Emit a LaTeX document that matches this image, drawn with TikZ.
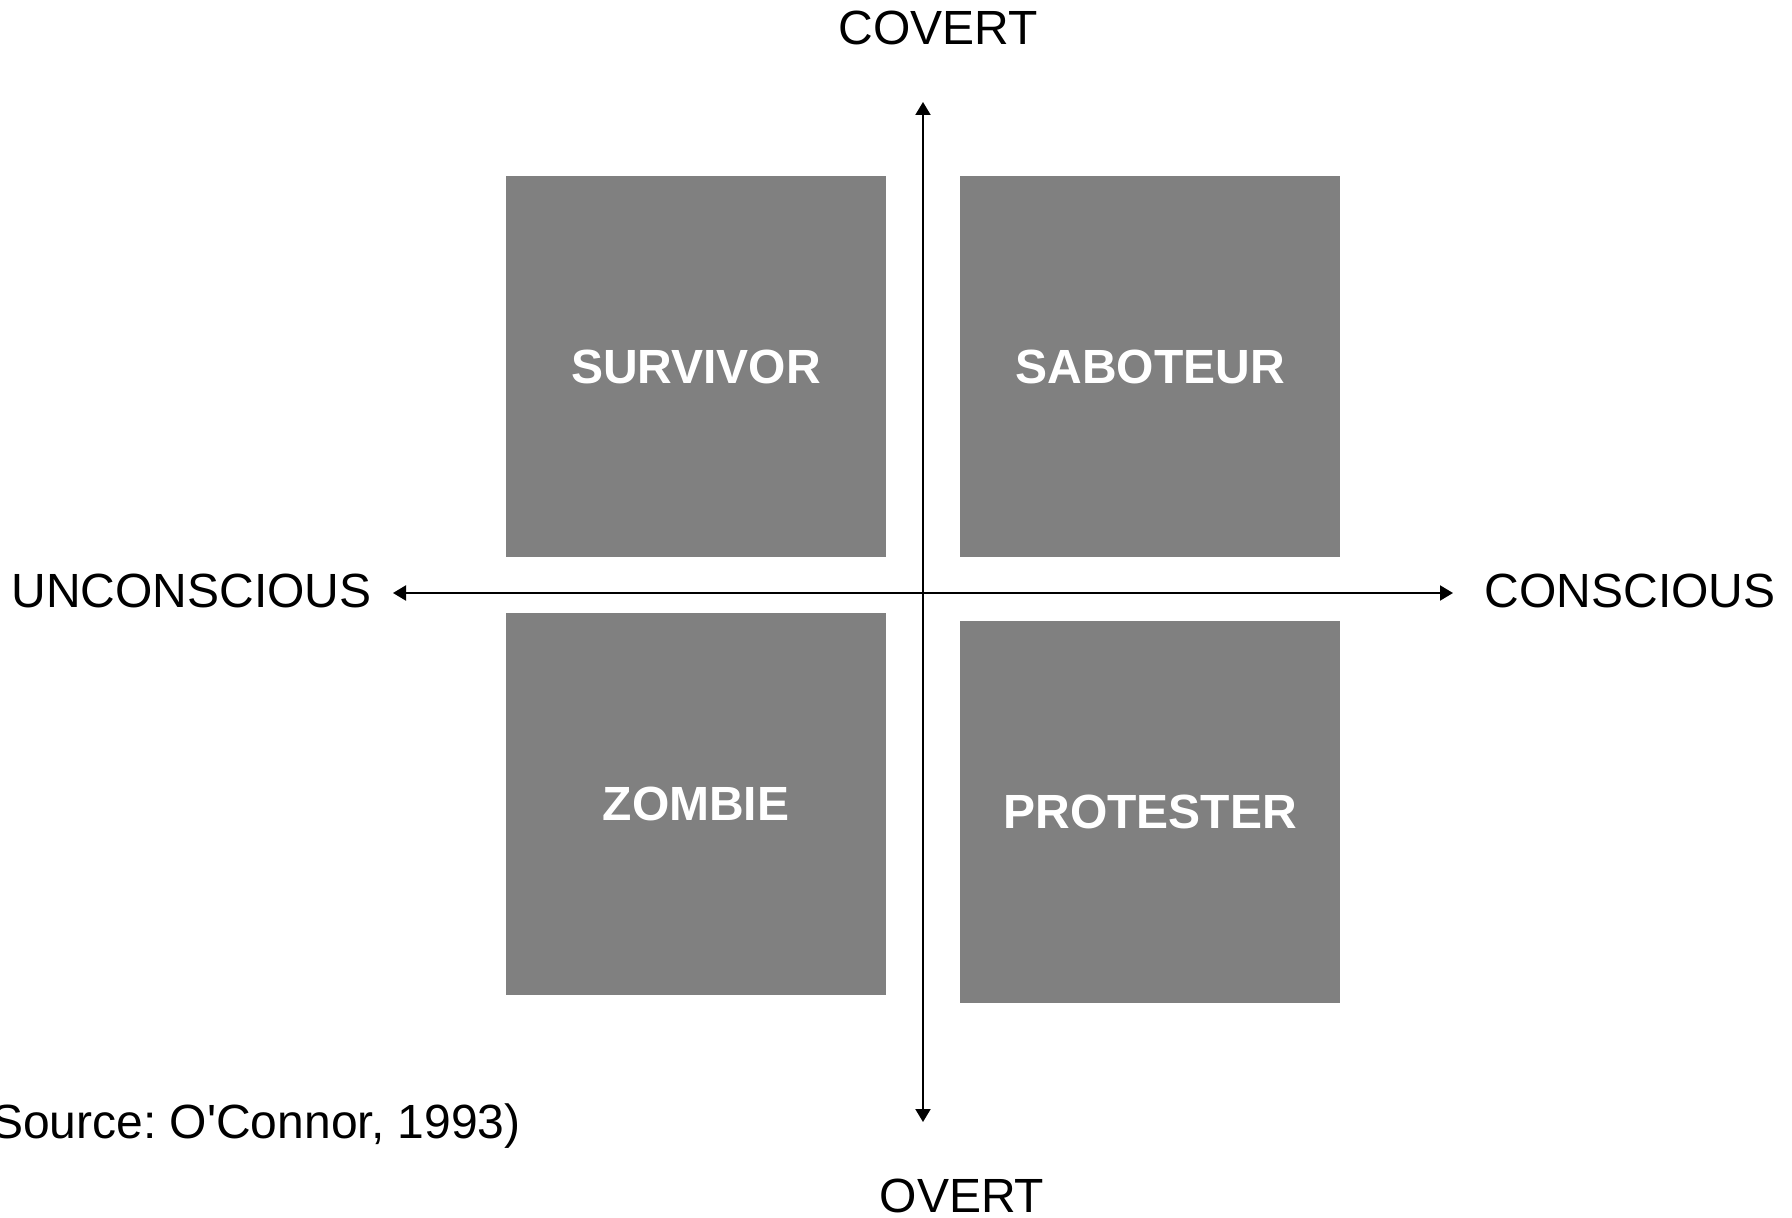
\documentclass[tikz,border=0pt]{standalone}
\usepackage{fontspec}
\setmainfont{Liberation Sans}[Ligatures=TeXOff]
\usetikzlibrary{arrows.meta}
\definecolor{boxgray}{HTML}{808080}
\begin{document}
\begin{tikzpicture}[x=0.5pt,y=-0.5pt,
  quad/.style={fill=boxgray,draw=none,minimum width=190pt,minimum height=190.5pt,inner sep=0pt,
    font=\fontsize{24pt}{28pt}\selectfont\bfseries,text=white},
  axislabel/.style={inner sep=0pt,anchor=base,text depth=0pt,font=\fontsize{24pt}{28pt}\selectfont\frenchspacing},
  axis/.style={line width=1pt,{Triangle[length=6.5pt,width=7.5pt]}-{Triangle[length=6.5pt,width=7.5pt]}}]
\useasboundingbox (0,0) rectangle (1792,1218);
\node[quad] (survivor) at (696,366.5) {SURVIVOR};
\node[quad] (saboteur) at (1150,366.5) {SABOTEUR};
\node[quad] (zombie) at (696,804) {ZOMBIE};
\node[quad] (protester) at (1150,812) {PROTESTER};
\coordinate (top) at (923,102);
\coordinate (bottom) at (923,1122);
\coordinate (left) at (393,593);
\coordinate (right) at (1453,593);
\draw[axis] (bottom) -- (top);
\draw[axis] (left) -- (right);
\node[axislabel] (covert) at (938,45) {COVERT};
\node[axislabel] (overt) at (962,1212) {OVERT};
\node[axislabel] (unconscious) at (191.5,608) {UNCONSCIOUS};
\node[axislabel] (conscious) at (1630,608) {CONSCIOUS};
\node[axislabel,anchor=base east] (source) at (521,1138) {(Source: O'Connor, 1993)};
\end{tikzpicture}
\end{document}
